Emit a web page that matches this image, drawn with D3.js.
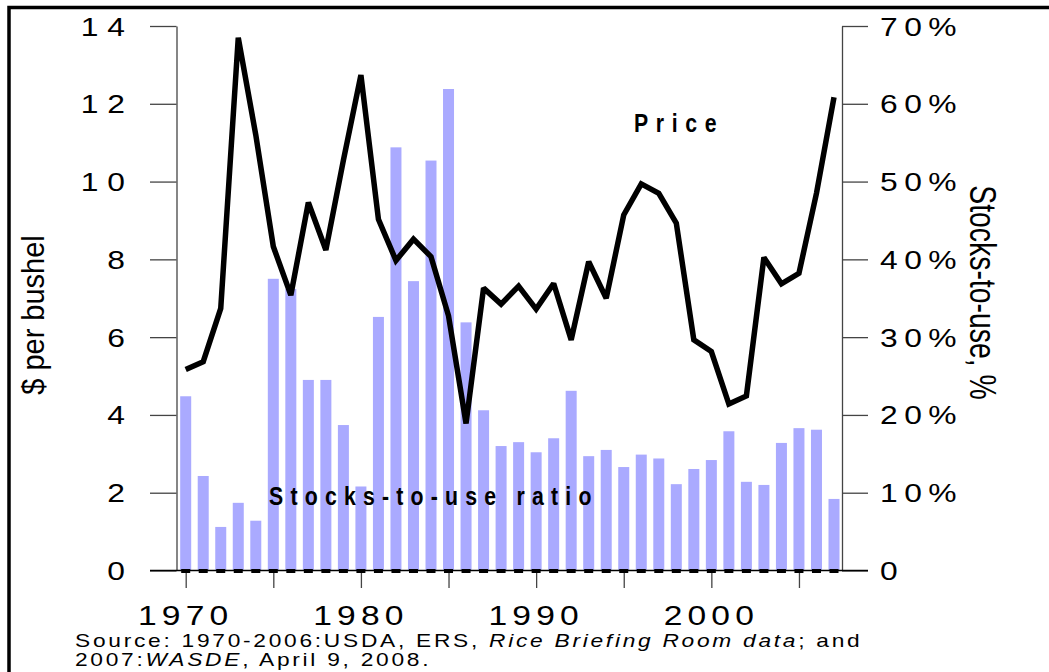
<!DOCTYPE html>
<html>
<head>
<meta charset="utf-8">
<script src="https://cdn.jsdelivr.net/npm/d3@7"></script>
<style>
  body { margin: 0; background: #fff; }
  svg { display: block; }
  text { font-family: "Liberation Sans", Arial, sans-serif; fill: #000; }
</style>
</head>
<body>
<div id="chart"></div>
<script>
// rice price ($/bushel) and stocks-to-use ratio (%), 1970-2007
const years = [1970, 1971, 1972, 1973, 1974, 1975, 1976, 1977, 1978, 1979,
  1980, 1981, 1982, 1983, 1984, 1985, 1986, 1987, 1988, 1989,
  1990, 1991, 1992, 1993, 1994, 1995, 1996, 1997, 1998, 1999,
  2000, 2001, 2002, 2003, 2004, 2005, 2006, 2007];
const price = [5.17, 5.37, 6.74, 13.7, 11.2, 8.33, 7.08, 9.46, 8.24, 10.55,
  12.74, 9.03, 7.97, 8.52, 8.07, 6.55, 3.78, 7.26, 6.85, 7.31,
  6.72, 7.38, 5.93, 7.94, 7.0, 9.14, 9.94, 9.7, 8.93, 5.93,
  5.63, 4.28, 4.49, 8.05, 7.37, 7.64, 9.7, 12.17];
const stocks = [22.4, 12.15, 5.6, 8.7, 6.4, 37.5, 36.2, 24.5, 24.5, 18.7,
  10.8, 32.6, 54.4, 37.2, 52.7, 61.9, 31.9, 20.6, 16.0, 16.5,
  15.2, 17.0, 23.1, 14.7, 15.5, 13.3, 14.9, 14.4, 11.1, 13.05,
  14.2, 17.9, 11.4, 11.0, 16.4, 18.3, 18.1, 9.2];

const leftTicks = [0, 2, 4, 6, 8, 10, 12, 14];
const rightTicks = [0, 10, 20, 30, 40, 50, 60, 70];
const xTicks = [1970, 1975, 1980, 1985, 1990, 1995, 2000, 2005];
const xLabels = [1970, 1980, 1990, 2000];

const width = 1049;
const height = 672;

const svg = d3.select("#chart").append("svg")
  .attr("width", width)
  .attr("height", height);

// outer frame
svg.append("rect")
  .attr("x", 9).attr("y", 7.5)
  .attr("width", 1100).attr("height", 700)
  .attr("fill", "none").attr("stroke", "#000").attr("stroke-width", 3.5);

const x = d3.scaleLinear().domain([1970, 2007]).range([185.7, 834]);
const yL = d3.scaleLinear().domain([0, 14]).range([570.5, 26]);
const yR = d3.scaleLinear().domain([0, 70]).range([570.5, 26]);

const data = years.map((yr, i) => ({ year: yr, price: price[i], stocks: stocks[i] }));

// bars
svg.append("g")
  .selectAll("rect")
  .data(data)
  .join("rect")
  .attr("x", (d) => x(d.year) - 5.5)
  .attr("width", 11)
  .attr("y", (d) => yR(d.stocks))
  .attr("height", (d) => yR(0) - yR(d.stocks))
  .attr("fill", "#aaaaff");

// axes (lines only, labels drawn below)
const axisColor = "#444";
function styleAxis(g) {
  g.selectAll("path, line").attr("stroke", axisColor).attr("stroke-width", 1.3);
  g.selectAll("text").remove();
}

svg.append("g")
  .attr("transform", "translate(176.5,0)")
  .call(d3.axisLeft(yL).tickValues(leftTicks).tickSize(26.5).tickSizeOuter(0))
  .call(styleAxis);

svg.append("g")
  .attr("transform", "translate(842,0)")
  .call(d3.axisRight(yR).tickValues(rightTicks).tickSize(26).tickSizeOuter(0))
  .call(styleAxis);

// horizontal zero line spanning both tick sets
svg.append("line")
  .attr("x1", 150).attr("x2", 868)
  .attr("y1", yL(0)).attr("y2", yL(0))
  .attr("stroke", "#000").attr("stroke-width", 1.3);

svg.append("g")
  .attr("transform", `translate(0,${yL(0)})`)
  .call(d3.axisBottom(x).tickValues(xTicks).tickSize(17.5).tickSizeOuter(0))
  .call((g) => g.select(".domain").remove())
  .call(styleAxis);

// small black markers along the baseline
svg.append("g")
  .selectAll("rect")
  .data(data)
  .join("rect")
  .attr("x", (d) => x(d.year) - 4.5)
  .attr("y", yL(0) - 1.5)
  .attr("width", 9)
  .attr("height", 4)
  .attr("fill", "#000");

// price line
const line = d3.line()
  .x((d) => x(d.year))
  .y((d) => yL(d.price));

svg.append("path")
  .datum(data)
  .attr("d", line)
  .attr("fill", "none")
  .attr("stroke", "#000")
  .attr("stroke-width", 5.5)
  .attr("stroke-linejoin", "miter")
  .attr("stroke-miterlimit", 2);

// stretched text helper
function label(px, py, str, opts) {
  const o = Object.assign({ size: 26, sx: 1.3, ls: 4, anchor: "start", weight: "normal", rot: 0 }, opts);
  let tr = `translate(${px},${py})`;
  if (o.rot) tr += ` rotate(${o.rot}) scale(1,${o.sx})`;
  else tr += ` scale(${o.sx},1)`;
  const t = svg.append("text")
    .attr("transform", tr)
    .attr("text-anchor", o.anchor)
    .attr("font-size", o.size)
    .attr("font-weight", o.weight)
    .style("letter-spacing", o.ls + "px");
  if (typeof str === "string") t.text(str);
  else str(t);
  return t;
}

// left tick labels
leftTicks.forEach((v) => {
  label(134, yL(v) + 9.5, String(v), { size: 26.5, sx: 1.2, ls: 7.5, anchor: "end" });
});

// right tick labels
rightTicks.forEach((v) => {
  label(880, yR(v) + 9.5, v === 0 ? "0" : v + "%", { size: 26.5, sx: 1.2, ls: 5.4 });
});

// x labels
xLabels.forEach((v) => {
  label(x(v), 625, String(v), { size: 28, sx: 1.2, ls: 4.3, anchor: "middle" });
});

// axis titles
label(44, 315, "$ per bushel", { size: 29, sx: 1.1, ls: 0, anchor: "middle", rot: -90 });
label(970, 292.5, "Stocks-to-use, %", { size: 28.4, sx: 1.3, ls: 0, anchor: "middle", rot: 90 });

// series annotations
label(634, 131.5, "Price", { size: 25, sx: 0.85, ls: 9, weight: "bold" });
label(269, 505, "Stocks-to-use ratio", { size: 25, sx: 0.85, ls: 8.5, weight: "bold" });

// source note
label(75, 647, (t) => {
  t.append("tspan").text("Source: 1970-2006:USDA, ERS, ");
  t.append("tspan").attr("font-style", "italic").text("Rice Briefing Room data");
  t.append("tspan").text("; and");
}, { size: 17.5, sx: 1.3, ls: 2.1 });
label(75, 666, (t) => {
  t.append("tspan").text("2007:");
  t.append("tspan").attr("font-style", "italic").text("WASDE");
  t.append("tspan").text(", April 9, 2008.");
}, { size: 17.5, sx: 1.3, ls: 2.1 });
</script>
</body>
</html>
